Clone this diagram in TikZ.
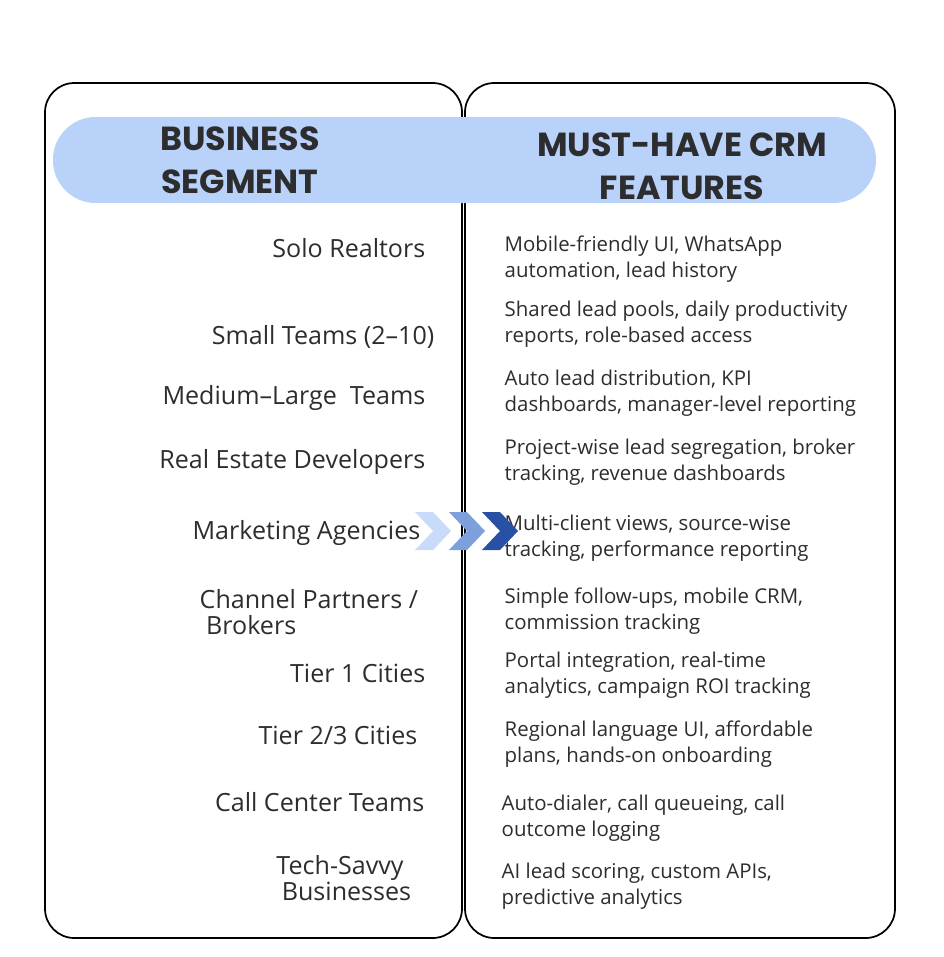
\documentclass[tikz,border=0pt]{standalone}
\usepackage{fontspec}
\setmainfont{Open Sans}
\newfontfamily\headfont{Poppins Bold}
\usetikzlibrary{positioning}
\definecolor{pill}{RGB}{185,210,250}
\definecolor{ink}{RGB}{45,45,48}
\definecolor{chevA}{RGB}{200,220,250}
\definecolor{chevB}{RGB}{125,160,220}
\definecolor{chevC}{RGB}{40,80,165}
\tikzset{
  panel/.style={draw=black, line width=1.3pt, rounded corners=22pt},
  head/.style={font=\headfont\fontsize{25}{32}\selectfont, text=ink, align=center},
  seg/.style={font=\fontsize{18.8}{19.5}\selectfont, text=ink, anchor=east, align=right},
  feat/.style={font=\fontsize{15.3}{19.5}\selectfont, text=ink, anchor=west, align=left},
  chev/.style={fill=#1, draw=none}
}
\begin{document}
\begin{tikzpicture}[x=0.75pt,y=-0.75pt]
\useasboundingbox (0,0) rectangle (943,957);

% panels
\draw[panel] (45,83) rectangle (462,938);
\draw[panel] (465,83) rectangle (895,938);
\fill[pill, rounded corners=32pt] (53,117) rectangle (876,203);

\node[head] (hseg) at (240,160) {BUSINESS\\SEGMENT};
\node[head] (hfeat) at (682,166) {MUST-HAVE CRM\\FEATURES};

% segments
\node[seg] (s1) at (430,248) {Solo Realtors};
\node[seg] (s2) at (439,337) {Small Teams (2--10)};
\node[seg] (s3) at (430,398) {Medium--Large\ \ Teams};
\node[seg] (s4) at (430,462) {Real Estate Developers};
\node[seg] (s5) at (425,533) {Marketing Agencies};
\node[seg, anchor=west, align=left] (s6) at (195,612) {Channel Partners /\\\ Brokers};
\node[seg] (s7) at (430,673) {Tier 1 Cities};
\node[seg] (s8) at (422,735) {Tier 2/3 Cities};
\node[seg] (s9) at (429,802) {Call Center Teams};
\node[seg, anchor=center, align=center] (s10) at (340,878) {Tech-Savvy\\\ \ Businesses};

% features
\node[feat] (f1) at (500,259) {Mobile-friendly UI, WhatsApp\\automation, lead history};
\node[feat] (f2) at (500,324) {Shared lead pools, daily productivity\\reports, role-based access};
\node[feat] (f3) at (500,393) {Auto lead distribution, KPI\\dashboards, manager-level reporting};
\node[feat] (f4) at (500,462) {Project-wise lead segregation, broker\\tracking, revenue dashboards};
\node[feat] (f5) at (500,538) {Multi-client views, source-wise\\tracking, performance reporting};
\node[feat] (f6) at (500,611) {Simple follow-ups, mobile CRM,\\commission tracking};
\node[feat] (f7) at (500,675) {Portal integration, real-time\\analytics, campaign ROI tracking};
\node[feat] (f8) at (500,744) {Regional language UI, affordable\\plans, hands-on onboarding};
\node[feat] (f9) at (497,818) {Auto-dialer, call queueing, call\\outcome logging};
\node[feat] (f10) at (497,886) {AI lead scoring, custom APIs,\\predictive analytics};

% chevrons
\foreach \x/\c in {415/chevA,449/chevB,482/chevC}
  \fill[chev=\c] (\x,512) -- (\x+18,512) -- (\x+36,531) -- (\x+18,550) -- (\x,550) -- (\x+18,531) -- cycle;

\end{tikzpicture}
\end{document}
